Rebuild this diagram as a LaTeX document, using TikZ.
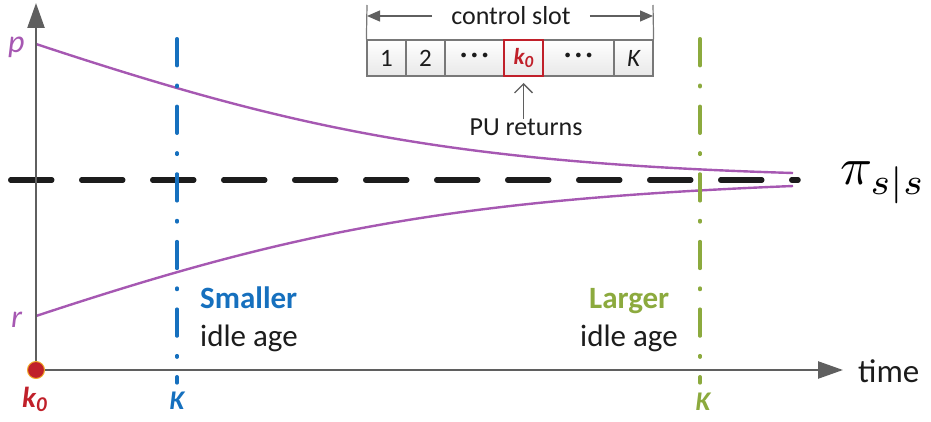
\documentclass[tikz,border=0pt]{standalone}
\usepackage[no-math]{fontspec}
\usepackage{graphicx}
\setmainfont{Carlito}
\usetikzlibrary{arrows.meta}

\definecolor{curvepurple}{RGB}{166,88,178}
\definecolor{axisgray}{RGB}{95,95,95}
\definecolor{cellgray}{RGB}{120,120,120}
\definecolor{kblue}{RGB}{22,112,190}
\definecolor{kgreen}{RGB}{140,170,62}
\definecolor{kred}{RGB}{192,32,42}
\definecolor{dotorange}{RGB}{240,170,40}
\definecolor{inkblack}{RGB}{28,28,28}

\newcommand\setfs[1]{\fontsize{#1}{#1}\selectfont}
\newcommand\slotdots{{\bfseries ·\hspace{4pt}·\hspace{4pt}·}}

\begin{document}
\begin{tikzpicture}[x=1pt,y=-1pt,
  axis/.style={draw=axisgray, line width=2.4pt,
    -{Triangle[length=25pt,width=17pt]}},
  curve/.style={draw=curvepurple, line width=2.4pt},
  piline/.style={draw=inkblack, line width=5.5pt, line cap=round,
    dash pattern=on 41pt off 30pt},
  kline/.style={line width=3.3pt, line cap=round,
    dash pattern=on 27pt off 19.5pt on 1.6pt off 19.5pt},
  txt/.style={inner sep=0pt, text=inkblack},
  cell/.style={draw=cellgray, line width=1.2pt, rectangle, inner sep=0pt,
    minimum height=36pt, top color=white, bottom color=black!9,
    text=inkblack, font=\setfs{25}},
  slotarrow/.style={draw=axisgray, line width=1.2pt,
    -{Triangle[length=13pt,width=11pt]}},
  slotedge/.style={draw=cellgray, line width=1.2pt},
  puarrow/.style={draw=axisgray, line width=1.4pt,
    -{Straight Barb[length=9pt,width=18pt]}},
]
\useasboundingbox (0,0) rectangle (931,422);

% ---- axes and reference points
\coordinate (O) at (36,370);
\coordinate (ytop) at (36,3);
\coordinate (xend) at (843,370);
\coordinate (piL) at (10.75,180);
\coordinate (piR) at (798,180);
\coordinate (kbT) at (177,38.7);
\coordinate (kbB) at (177,383);
\coordinate (kgT) at (700,38.7);
\coordinate (kgB) at (700,383);
\coordinate (pstart) at (36,44);
\coordinate (rstart) at (36,316);
\coordinate (pend) at (793,173);
\coordinate (rend) at (793,186);

% ---- the two trajectories converging to pi_{s|s}
\draw[curve] (pstart) .. controls (286,126.5) and (443,162.5) .. (pend);
\draw[curve] (rstart) .. controls (286,233.5) and (443,200) .. (rend);

% ---- stationary level
\draw[piline] (piL) -- (piR);
\node[anchor=base west, inner sep=0pt] (pi) at (840,185) {\scalebox{5.3}{$\pi_{s|s}$}};

% ---- idle-age markers
\draw[kline, draw=kblue] (kbT) -- (kbB);
\draw[kline, draw=kgreen] (kgT) -- (kgB);

% ---- axes
\draw[axis] (O) -- (ytop);
\draw[axis] (O) -- (xend);
\node[txt, anchor=base west, font=\setfs{33}] (time) at (858,382) {time};

% ---- start slot marker
\node[circle, fill=kred, draw=dotorange, line width=1pt, minimum size=17pt, inner sep=0pt] (dot) at (O) {};
\node[txt, anchor=base west, text=kred, font=\setfs{29}\bfseries\itshape] (k0lab) at (22,407)
  {k\raisebox{-4pt}{\setfs{21}0}};

% ---- K labels
\node[txt, anchor=base, text=kblue, font=\setfs{27}\bfseries\itshape] (Kb) at (177,409) {K};
\node[txt, anchor=base, text=kgreen, font=\setfs{27}\bfseries\itshape] (Kg) at (703,410) {K};

% ---- start values
\node[txt, anchor=base west, text=curvepurple, font=\setfs{32}\itshape] (p) at (8,53) {p};
\node[txt, anchor=base west, text=curvepurple, font=\setfs{32}\itshape] (r) at (11,327) {r};

% ---- annotations
\node[txt, anchor=base west, text=kblue, font=\setfs{31}\bfseries] (small) at (200,308) {Smaller};
\node[txt, anchor=base west, font=\setfs{31}] (smallage) at (200,346) {idle age};
\node[txt, anchor=base west, text=kgreen, font=\setfs{31}\bfseries] (large) at (589,308) {Larger};
\node[txt, anchor=base west, font=\setfs{31}] (largeage) at (580,346) {idle age};

% ---- control slot strip
\node[cell, minimum width=39pt] (c1) at (386.5,58) {1};
\node[cell, minimum width=39pt] (c2) at (425.5,58) {2};
\node[cell, minimum width=59pt] (c3) at (474.5,58) {\slotdots};
\node[cell, minimum width=71pt] (c5) at (578.5,58) {\slotdots};
\node[cell, minimum width=39pt] (c6) at (633.5,58) {\itshape K};
\node[cell, minimum width=39pt, draw=kred, line width=2pt] (ck) at (523.5,58)
  {\textcolor{kred}{\bfseries\itshape\setfs{23}k\raisebox{-3pt}{\setfs{17}0}}};

\coordinate (edgeL) at (367,5);
\coordinate (edgeR) at (653,5);
\draw[slotedge] (c1.north west) -- (edgeL);
\draw[slotedge] (c6.north east) -- (edgeR);

\node[txt, inner xsep=19pt, font=\setfs{26}] (cs) at (511,16) {control slot};
\coordinate (csL) at (367,16);
\coordinate (csR) at (653,16);
\draw[slotarrow] (cs.west) -- (csL);
\draw[slotarrow] (cs.east) -- (csR);

\node[txt, anchor=base, font=\setfs{26}] (pu) at (526,136) {PU returns};
\draw[puarrow, shorten >=6pt] (pu.north -| ck.south) -- (ck.south);

\end{tikzpicture}
\end{document}
